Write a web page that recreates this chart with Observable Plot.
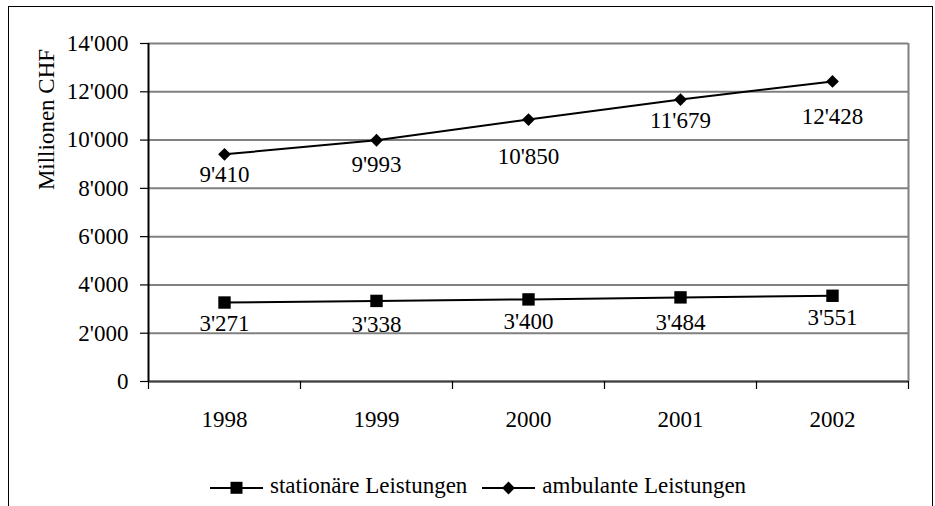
<!DOCTYPE html>
<html>
<head>
<meta charset="utf-8">
<script src="https://cdn.jsdelivr.net/npm/d3@7"></script>
<script src="https://cdn.jsdelivr.net/npm/@observablehq/plot@0.6"></script>
<style>
  html, body { margin: 0; padding: 0; background: #fff; }
  body { width: 935px; height: 506px; position: relative; overflow: hidden;
         font-family: "Liberation Serif", "Times New Roman", serif; color: #000; }
  #frame { position: absolute; left: 8px; top: 6px; width: 925px; height: 600px;
           border: 1.5px solid #000; box-sizing: border-box; }
  #chart { position: absolute; left: 0; top: 0; }
  #legend { position: absolute; left: 210px; top: 474px; display: flex; align-items: center;
            font-size: 23px; line-height: 24px; white-space: nowrap; }
  #legend .sw { position: relative; top: 2px; margin-right: 7px; display: block; }
  #legend .item { display: flex; align-items: center; margin-right: 15px; }
</style>
</head>
<body>
<div id="frame"></div>
<div id="chart"></div>
<div id="legend"></div>
<script>
// ---- data ----
const years = [1998, 1999, 2000, 2001, 2002];
const stationaer = [3271, 3338, 3400, 3484, 3551];
const ambulant = [9410, 9993, 10850, 11679, 12428];
const seriesNames = ["stationäre Leistungen", "ambulante Leistungen"];
const yTicks = [0, 2000, 4000, 6000, 8000, 10000, 12000, 14000];
const yLabel = "Millionen CHF";

// label placement offsets (px below point, baseline)
const statLabelDy = [28, 31, 30, 33, 29];
const ambLabelDy = [28, 32, 44, 28, 43];

const fmt = d3.formatLocale({decimal: ".", thousands: "'", grouping: [3], currency: ["", ""]}).format(",");

const statRows = years.map((year, i) => ({year, value: stationaer[i]}));
const ambRows = years.map((year, i) => ({year, value: ambulant[i]}));
const boundaries = [years[0] - 0.5, ...years.map(y => y + 0.5)];

const diamondSym = {draw(ctx, size) { const r = Math.sqrt(size / Math.PI); ctx.moveTo(0, -r); ctx.lineTo(r, 0); ctx.lineTo(0, r); ctx.lineTo(-r, 0); ctx.closePath(); }};
const squareSym = {draw(ctx, size) { const r = Math.sqrt(size / Math.PI); ctx.rect(-r, -r, 2 * r, 2 * r); }};

const labelMarks = (rows, dys) => rows.map((row, i) =>
  Plot.text([row], {x: "year", y: "value", text: d => fmt(d.value), lineAnchor: "bottom", dy: dys[i], fill: "black"}));

const chart = Plot.plot({
  width: 935,
  height: 456,
  marginLeft: 148,
  marginRight: 27,
  marginTop: 43,
  marginBottom: 75,
  style: {fontFamily: "'Liberation Serif', 'Times New Roman', serif", fontSize: "23px", background: "none", color: "black", overflow: "visible"},
  x: {domain: [boundaries[0], boundaries[boundaries.length - 1]], axis: null},
  y: {domain: [yTicks[0], yTicks[yTicks.length - 1]], axis: null},
  marks: [
    Plot.gridY(yTicks, {stroke: "#808080", strokeOpacity: 1, strokeWidth: 2}),
    Plot.ruleX([boundaries[boundaries.length - 1]], {stroke: "#808080", strokeWidth: 2}),
    Plot.ruleY([yTicks[0]], {stroke: "#404040", strokeWidth: 2}),
    Plot.ruleX([boundaries[0]], {stroke: "black", strokeWidth: 2}),
    Plot.axisY(yTicks, {tickSize: 8, tickPadding: 12, tickFormat: fmt, label: null, stroke: "black", fill: "black", strokeWidth: 1.2}),
    Plot.axisX(boundaries, {tickSize: 8, tickFormat: () => "", label: null, stroke: "black", strokeWidth: 1.2}),
    Plot.text(years, {x: d => d, frameAnchor: "bottom", lineAnchor: "bottom", dy: 45, text: d => String(d), fill: "black"}),
    Plot.text([yLabel], {frameAnchor: "top-left", rotate: -90, textAnchor: "middle", dx: -111, dy: 76, fill: "black"}),
    Plot.line(statRows, {x: "year", y: "value", stroke: "black", strokeWidth: 2}),
    Plot.line(ambRows, {x: "year", y: "value", stroke: "black", strokeWidth: 2}),
    Plot.dot(statRows, {x: "year", y: "value", symbol: squareSym, r: 6.2, fill: "black", stroke: "none"}),
    Plot.dot(ambRows, {x: "year", y: "value", symbol: diamondSym, r: 6.4, fill: "black", stroke: "none"}),
    ...labelMarks(statRows, statLabelDy),
    ...labelMarks(ambRows, ambLabelDy)
  ]
});
document.getElementById("chart").appendChild(chart);

// ---- legend ----
const legend = document.getElementById("legend");
const swatch = (kind) => {
  const ns = "http://www.w3.org/2000/svg";
  const svg = document.createElementNS(ns, "svg");
  svg.setAttribute("width", 53); svg.setAttribute("height", 14); svg.setAttribute("class", "sw");
  const line = document.createElementNS(ns, "line");
  line.setAttribute("x1", 0); line.setAttribute("x2", 53); line.setAttribute("y1", 7); line.setAttribute("y2", 7);
  line.setAttribute("stroke", "black"); line.setAttribute("stroke-width", 2);
  svg.appendChild(line);
  const p = document.createElementNS(ns, "path");
  p.setAttribute("d", kind === "square" ? "M20.5,0.8h12v12h-12z" : "M26.5,0.6l6.4,6.4l-6.4,6.4l-6.4,-6.4z");
  p.setAttribute("fill", "black");
  svg.appendChild(p);
  return svg;
};
seriesNames.forEach((name, i) => {
  const item = document.createElement("div");
  item.className = "item";
  item.appendChild(swatch(i === 0 ? "square" : "diamond"));
  const t = document.createElement("span");
  t.textContent = name;
  item.appendChild(t);
  legend.appendChild(item);
});
</script>
</body>
</html>
